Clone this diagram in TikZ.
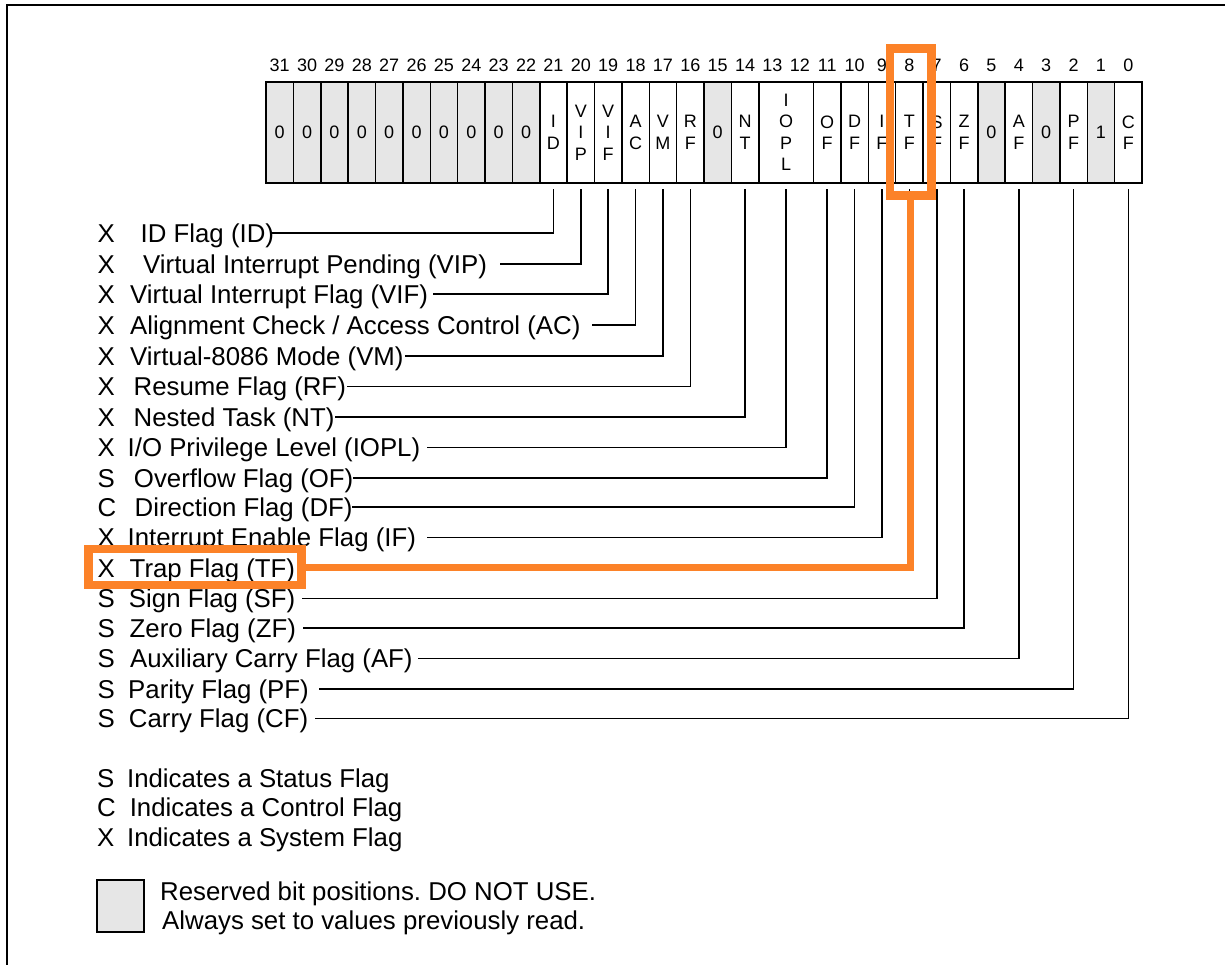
\documentclass[tikz,border=0pt]{standalone}
\usepackage{fontspec}
\setmainfont{Liberation Sans}
\frenchspacing
\definecolor{resgray}{RGB}{230,230,230}
\definecolor{hlorange}{RGB}{252,130,40}
\begin{document}
\begin{tikzpicture}[x=1pt,y=-1pt,
  cell/.style={draw, line width=1.5pt, minimum width=27.375pt, minimum height=101pt, inner sep=0pt, outer sep=0pt, align=center, font=\fontsize{18}{21.5}\selectfont},
  res/.style={cell, fill=resgray},
  num/.style={font=\fontsize{18}{21.5}\selectfont, inner sep=0pt},
  lbl/.style={anchor=west, inner sep=0pt, font=\fontsize{25.8}{30}\selectfont, text height=18.5pt, text depth=0pt},
  conn/.style={draw, line width=1.6pt},
  leg/.style={anchor=west, inner sep=0pt, font=\fontsize{25.8}{30}\selectfont, text height=18.5pt, text depth=0pt},
  hl/.style={draw=hlorange, line width=8.5pt, inner sep=0pt},
]
\useasboundingbox (0,0) rectangle (1225,965);
\fill[white] (0,0) rectangle (1225,965);
% frame
\draw[line width=2pt] (6.5,965) -- (6.5,5) -- (1225,5);

% register cells
\foreach \i in {22,...,31} {\node[res] (b\i) at ({1142-27.375*(\i+0.5)},132.5) {0};}
\foreach \i in {15,5,3} {\node[res] (b\i) at ({1142-27.375*(\i+0.5)},132.5) {0};}
\node[res] (b1) at ({1142-27.375*1.5},132.5) {1};
\foreach \i/\t in {21/{I\\D},20/{V\\I\\P},19/{V\\I\\F},18/{A\\C},17/{V\\M},16/{R\\F},14/{N\\T},11/{O\\F},10/{D\\F},9/{I\\F},8/{T\\F},7/{S\\F},6/{Z\\F},4/{A\\F},2/{P\\F},0/{C\\F}}
  {\node[cell] (b\i) at ({1142-27.375*(\i+0.5)},132.5) {\t};}
\node[cell, minimum width=54.75pt] (b12) at (786.125,132.5) {I\\O\\P\\L};

% bit numbers
\foreach \i in {0,...,31} {\node[num] (n\i) at ({1142-27.375*(\i+0.5)},65.5) {\i};}

% labels
\node[lbl] (lID)   at (97.5,233.3) {\makebox[43pt][l]{X}ID Flag (ID)};
\node[lbl] (lVIP)  at (97.5,264.3) {\makebox[45.5pt][l]{X}Virtual Interrupt Pending (VIP)};
\node[lbl] (lVIF)  at (97.5,293.8) {\makebox[32.5pt][l]{X}Virtual Interrupt Flag (VIF)};
\node[lbl] (lAC)   at (97.5,325)   {\makebox[32.5pt][l]{X}Alignment Check / Access Control (AC)};
\node[lbl] (lVM)   at (97.5,356)   {\makebox[32.5pt][l]{X}Virtual-8086 Mode (VM)};
\node[lbl] (lRF)   at (97.5,386.5) {\makebox[36pt][l]{X}Resume Flag (RF)};
\node[lbl] (lNT)   at (97.5,417)   {\makebox[36pt][l]{X}Nested Task (NT)};
\node[lbl] (lIOPL) at (97.5,447.5) {\makebox[30pt][l]{X}I/O Privilege Level (IOPL)};
\node[lbl] (lOF)   at (97.5,478)   {\makebox[36.3pt][l]{S}Overflow Flag (OF)};
\node[lbl] (lDF)   at (97.5,507)   {\makebox[37pt][l]{C}Direction Flag (DF)};
\node[lbl] (lIF)   at (97.5,537.5) {\makebox[30pt][l]{X}Interrupt Enable Flag (IF)};
\node[lbl] (lTF)   at (97.5,568)   {\makebox[32pt][l]{X}Trap Flag (TF)};
\node[lbl] (lSF)   at (97.5,598.5) {\makebox[31.3pt][l]{S}Sign Flag (SF)};
\node[lbl] (lZF)   at (97.5,628)   {\makebox[32pt][l]{S}Zero Flag (ZF)};
\node[lbl] (lAF)   at (97.5,658.5) {\makebox[32.5pt][l]{S}Auxiliary Carry Flag (AF)};
\node[lbl] (lPF)   at (97.5,689)   {\makebox[30.5pt][l]{S}Parity Flag (PF)};
\node[lbl] (lCF)   at (97.5,718.3) {\makebox[31.3pt][l]{S}Carry Flag (CF)};

% connector start points
\coordinate (sID)   at (272,233.3);
\coordinate (sVIP)  at (500,264.3);
\coordinate (sVIF)  at (433,293.8);
\coordinate (sAC)   at (592,325);
\coordinate (sVM)   at (405,356);
\coordinate (sRF)   at (347,386.5);
\coordinate (sNT)   at (335,417);
\coordinate (sIOPL) at (427,447.5);
\coordinate (sOF)   at (353,478);
\coordinate (sDF)   at (352,507);
\coordinate (sIF)   at (427,537.5);
\coordinate (sTF)   at (306,568);
\coordinate (sSF)   at (302,598.5);
\coordinate (sZF)   at (303,628);
\coordinate (sAF)   at (418,658.5);
\coordinate (sPF)   at (319,689);
\coordinate (sCF)   at (315,718.3);

\foreach \s/\b in {ID/21,VIP/20,VIF/19,AC/18,VM/17,RF/16,NT/14,IOPL/12,OF/11,DF/10,IF/9,TF/8,SF/7,ZF/6,AF/4,PF/2,CF/0}
  {\draw[conn] (s\s) -| ([yshift=-6pt]b\b.south);}

% legend
\node[leg] (legS) at (97,778)   {\makebox[29.9pt][l]{S}Indicates a Status Flag};
\node[leg] (legC) at (97,807)   {\makebox[32.6pt][l]{C}Indicates a Control Flag};
\node[leg] (legX) at (97,837.5) {\makebox[29.9pt][l]{X}Indicates a System Flag};
\node[draw, line width=1.5pt, fill=resgray, minimum width=47pt, minimum height=52pt, inner sep=0pt] (legbox) at (120.5,906) {};
\node[leg] (legR1) at (160,891)   {Reserved bit positions. DO NOT USE.};
\node[leg] (legR2) at (162,920.5) {Always set to values previously read.};

% highlight
\node[hl, minimum width=213pt, minimum height=36pt] (tfhl) at (195,567) {};
\node[hl, minimum width=41.5pt, minimum height=147pt] (reghl) at (910.5,122.25) {};
\draw[draw=hlorange, line width=7pt] (tfhl.east) -| (reghl.south);
\end{tikzpicture}
\end{document}
